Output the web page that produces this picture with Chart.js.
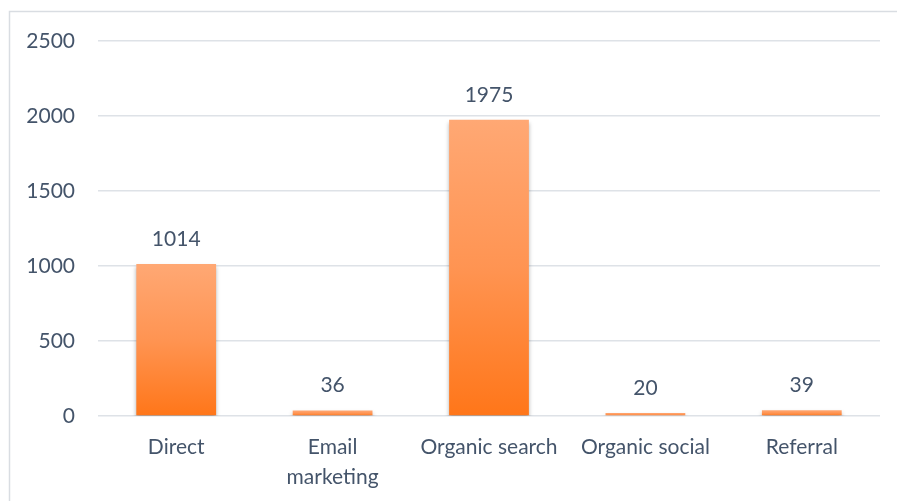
<!DOCTYPE html>
<html>
<head>
<meta charset="utf-8">
<script src="https://cdn.jsdelivr.net/npm/chart.js@4/dist/chart.umd.min.js"></script>
<style>
html,body{margin:0;padding:0;background:#fff;}
#wrap{width:897px;height:501px;position:relative;}
</style>
</head>
<body>
<div id="wrap"><canvas id="c" width="897" height="501"></canvas></div>
<script>
const categories = ['Direct', ['Email', 'marketing'], 'Organic search', 'Organic social', 'Referral'];
const sessions = [1014, 36, 1975, 20, 39];
const yTicks = [0, 500, 1000, 1500, 2000, 2500];

const TEXT = '#44546A';
const FONT = 'Lato, "Open Sans", sans-serif';

const frame = {
  id: 'frame',
  beforeDraw(chart) {
    const c = chart.ctx;
    c.save();
    c.fillStyle = '#fff';
    c.fillRect(0, 0, chart.width, chart.height);
    c.strokeStyle = '#D9DDE2';
    c.lineWidth = 1.5;
    c.strokeRect(9.5, 11.5, 1000, 600);
    c.restore();
  }
};

const shadow = {
  id: 'shadow',
  beforeDatasetsDraw(chart) {
    const c = chart.ctx;
    c.save();
    c.shadowColor = 'rgba(0,0,0,0.3)';
    c.shadowBlur = 4;
    c.shadowOffsetY = 3;
  },
  afterDatasetsDraw(chart) {
    chart.ctx.restore();
  }
};

const valueLabels = {
  id: 'valueLabels',
  afterDatasetsDraw(chart) {
    const c = chart.ctx;
    const meta = chart.getDatasetMeta(0);
    c.save();
    c.shadowColor = 'transparent';
    c.fillStyle = TEXT;
    c.font = '21px ' + FONT;
    c.textAlign = 'center';
    c.textBaseline = 'middle';
    meta.data.forEach((bar, i) => {
      c.fillText(String(sessions[i]), bar.x, bar.y - 25);
    });
    c.restore();
  }
};

new Chart(document.getElementById('c'), {
  type: 'bar',
  data: {
    labels: categories,
    datasets: [{
      data: sessions,
      backgroundColor: (ctx) => {
        const chart = ctx.chart;
        if (!chart.chartArea || ctx.raw === undefined) return '#FF8A3D';
        const y = chart.scales.y;
        const top = y.getPixelForValue(ctx.raw);
        const bot = y.getPixelForValue(0);
        if (Math.abs(bot - top) < 1) return '#FFA572';
        const g = chart.ctx.createLinearGradient(0, top, 0, bot);
        g.addColorStop(0, '#FFA874');
        g.addColorStop(0.5, '#FF9452');
        g.addColorStop(1, '#FF7619');
        return g;
      },
      borderWidth: 0,
      barPercentage: 0.51,
      categoryPercentage: 1.0
    }]
  },
  options: {
    responsive: false,
    animation: false,
    events: [],
    layout: { padding: { top: 41, right: 17, left: 0, bottom: 0 } },
    plugins: {
      legend: { display: false },
      tooltip: { enabled: false }
    },
    scales: {
      x: {
        grid: { display: false, drawTicks: false },
        border: { display: false },
        ticks: {
          color: TEXT,
          font: { family: FONT, size: 21, lineHeight: 1.4 },
          padding: 17,
          maxRotation: 0,
          autoSkip: false
        },
        afterFit(scale) { scale.height = 85; }
      },
      y: {
        min: 0,
        max: 2500,
        afterBuildTicks(scale) { scale.ticks = yTicks.map(v => ({ value: v })); },
        grid: { color: '#DEE2E7', lineWidth: 1.5, drawTicks: false },
        border: { display: false },
        ticks: {
          color: TEXT,
          font: { family: FONT, size: 21 },
          padding: 23,
          callback: (v) => String(v)
        },
        afterFit(scale) { scale.width = 98; }
      }
    }
  },
  plugins: [frame, shadow, valueLabels]
});
</script>
</body>
</html>
